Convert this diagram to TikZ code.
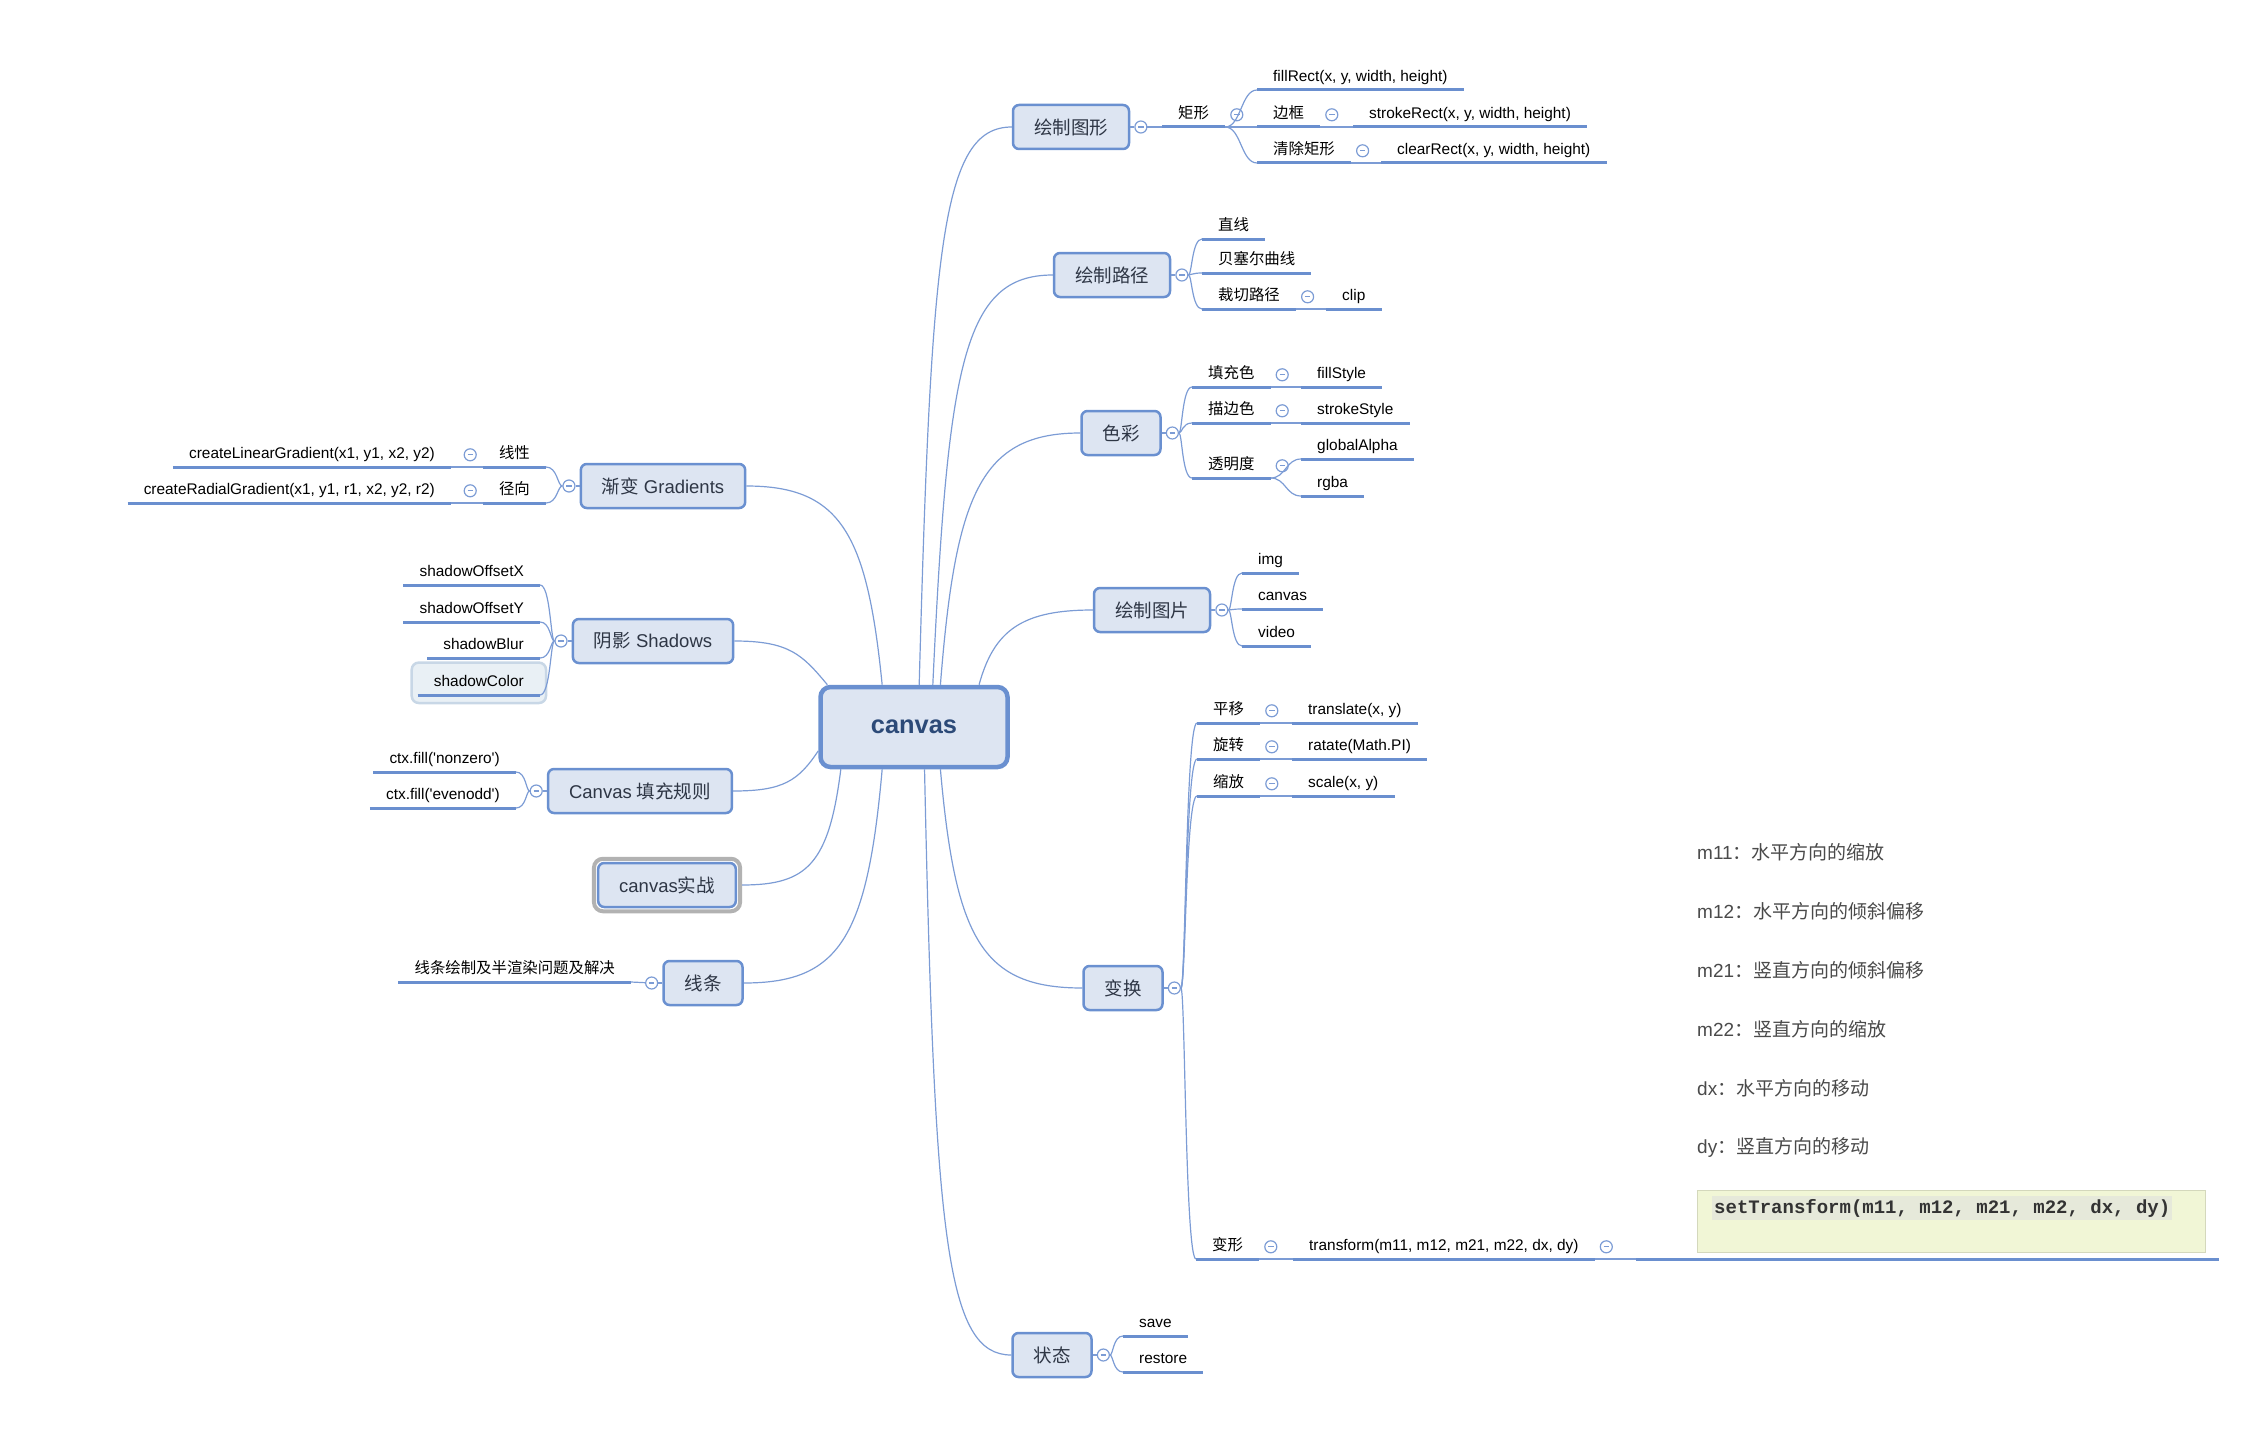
\documentclass[tikz,border=0pt]{standalone}
\usepackage{fontspec}
\setmainfont{Liberation Sans}
\setmonofont{Liberation Mono}
\newfontfamily\cjk{Noto Sans CJK SC}
\usetikzlibrary{positioning, calc, fit, backgrounds}

\definecolor{boxfill}{HTML}{DDE5F2}
\definecolor{boxline}{HTML}{6A90D0}
\definecolor{uline}{HTML}{6A8FCF}
\definecolor{branch}{HTML}{7C9CD5}
\definecolor{txtdark}{HTML}{2E3645}
\definecolor{rootink}{HTML}{2C4A78}
\definecolor{notegray}{HTML}{4A4A4A}
\definecolor{notefill}{HTML}{F1F6D6}
\definecolor{codeband}{HTML}{E6E9DA}
\definecolor{selfill}{HTML}{E9F0F5}
\definecolor{selline}{HTML}{C8D7E6}

\tikzset{
  root/.style={draw=boxline, fill=boxfill, line width=4.5pt, rounded corners=10pt,
    minimum width=187pt, minimum height=80pt, text=rootink,
    font=\bfseries\fontsize{25.4}{30}\selectfont},
  topic/.style={draw=boxline, fill=boxfill, line width=2.5pt, rounded corners=6pt,
    minimum height=44pt, inner xsep=21pt, text=txtdark,
    font=\fontsize{18.5}{22}\selectfont},
  leaf/.style={inner xsep=16pt, inner ysep=5pt, text height=11pt, text depth=3pt,
    font=\fontsize{15.4}{18}\selectfont},
  rleaf/.style={leaf, anchor=south west},
  lleaf/.style={leaf, anchor=south east},
  fold/.style={circle, draw=branch, fill=white, line width=1.2pt, minimum size=12pt, inner sep=0pt,
    path picture={\draw[branch, line width=1.1pt]
      ([xshift=-2.7pt]path picture bounding box.center) -- ([xshift=2.7pt]path picture bounding box.center);}},
  link/.style={draw=branch, line width=1.2pt},
  bar/.style={draw=uline, line width=3pt},
  fork/.style={to path={.. controls ($(\tikztostart)!0.5!(\tikztotarget|-\tikztostart)$)
    and ($(\tikztotarget)!0.5!(\tikztostart|-\tikztotarget)$) .. (\tikztotarget)}},
  note/.style={anchor=west, inner sep=0pt, text=notegray, font=\fontsize{19}{23}\selectfont},
}

\begin{document}
\begin{tikzpicture}[x=1pt, y=-1pt]
\useasboundingbox (0,0) rectangle (2264,1442);

% centre
\node[root] (canvas) at (914,727) {canvas};

% main topics, right
\node[topic] (shapes) at (1071,127) {\cjk 绘制图形};
\node[topic] (paths) at (1112,275) {\cjk 绘制路径};
\node[topic] (colors) at (1121,433) {\cjk 色彩};
\node[topic] (images) at (1152,610) {\cjk 绘制图片};
\node[topic] (transforms) at (1123,988) {\cjk 变换};
\node[topic] (states) at (1052,1355) {\cjk 状态};
% main topics, left
\node[topic] (grads) at (663,486) {{\cjk 渐变} Gradients};
\node[topic] (shadows) at (653,641) {{\cjk 阴影} Shadows};
\node[topic] (rules) at (640,791) {Canvas {\cjk 填充规则}};
\node[topic] (practice) at (667,885) {canvas{\cjk 实战}};
\node[fit=(practice), inner sep=3pt, draw=gray!60, line width=4pt, rounded corners=9pt] (practicesel) {};
\node[topic] (lines) at (703,983) {\cjk 线条};

% 绘制图形
\node[rleaf] (rect) at (1162,127) {\cjk 矩形};
\node[rleaf] (fillrect) at (1257,90) {fillRect(x, y, width, height)};
\node[rleaf] (border) at (1257,127) {\cjk 边框};
\node[rleaf] (strokerect) at (1353,127) {strokeRect(x, y, width, height)};
\node[rleaf] (clear) at (1257,163) {\cjk 清除矩形};
\node[rleaf] (clearrect) at (1381,163) {clearRect(x, y, width, height)};
% 绘制路径
\node[rleaf] (straight) at (1202,239) {\cjk 直线};
\node[rleaf] (bezier) at (1202,273) {\cjk 贝塞尔曲线};
\node[rleaf] (clippath) at (1202,309) {\cjk 裁切路径};
\node[rleaf] (cliptxt) at (1326,309) {clip};
% 色彩
\node[rleaf] (fillc) at (1192,387) {\cjk 填充色};
\node[rleaf] (fillstyle) at (1301,387) {fillStyle};
\node[rleaf] (strokec) at (1192,423) {\cjk 描边色};
\node[rleaf] (strokestyle) at (1301,423) {strokeStyle};
\node[rleaf] (alpha) at (1192,478) {\cjk 透明度};
\node[rleaf] (galpha) at (1301,459) {globalAlpha};
\node[rleaf] (rgba) at (1301,496) {rgba};
% 绘制图片
\node[rleaf] (img) at (1242,573) {img};
\node[rleaf] (cvs) at (1242,609) {canvas};
\node[rleaf] (video) at (1242,646) {video};
% 变换
\node[rleaf] (move) at (1197,723) {\cjk 平移};
\node[rleaf] (translate) at (1292,723) {translate(x, y)};
\node[rleaf] (turn) at (1197,759) {\cjk 旋转};
\node[rleaf] (ratate) at (1292,759) {ratate(Math.PI)};
\node[rleaf] (zoomc) at (1197,796) {\cjk 缩放};
\node[rleaf] (scalexy) at (1292,796) {scale(x, y)};
\node[rleaf] (trans) at (1196,1259) {\cjk 变形};
\node[rleaf] (transform) at (1293,1259) {transform(m11, m12, m21, m22, dx, dy)};
\node[anchor=south west, inner sep=0pt, minimum width=583pt, minimum height=10pt] (notes) at (1636,1259) {};
\node[note] (m11) at (1697,852) {m11{\cjk ：水平方向的缩放}};
\node[note] (m12) at (1697,911) {m12{\cjk ：水平方向的倾斜偏移}};
\node[note] (m21) at (1697,970) {m21{\cjk ：竖直方向的倾斜偏移}};
\node[note] (m22) at (1697,1029) {m22{\cjk ：竖直方向的缩放}};
\node[note] (dx) at (1697,1088) {dx{\cjk ：水平方向的移动}};
\node[note] (dy) at (1697,1147) {dy{\cjk ：竖直方向的移动}};
\node[anchor=north west, minimum width=508pt, minimum height=62pt, fill=notefill,
  draw=notefill!88!black, line width=0.8pt] (codebg) at (1697,1190) {};
\node[anchor=west, fill=codeband, inner xsep=2pt, inner ysep=3pt, text=black!80,
  font=\ttfamily\bfseries\fontsize{19}{22}\selectfont] (code) at (1712,1208)
  {setTransform(m11, m12, m21, m22, dx, dy)};
% 状态
\node[rleaf] (save) at (1123,1336) {save};
\node[rleaf] (restore) at (1123,1372) {restore};

% 渐变
\node[lleaf] (linear) at (546,467) {\cjk 线性};
\node[lleaf] (lingrad) at (451,467) {createLinearGradient(x1, y1, x2, y2)};
\node[lleaf] (radial) at (546,503) {\cjk 径向};
\node[lleaf] (radgrad) at (451,503) {createRadialGradient(x1, y1, r1, x2, y2, r2)};
% 阴影
\node[lleaf] (sox) at (540,585) {shadowOffsetX};
\node[lleaf] (soy) at (540,622) {shadowOffsetY};
\node[lleaf] (sblur) at (540,658) {shadowBlur};
\node[lleaf] (scolor) at (540,695) {shadowColor};
\begin{scope}[on background layer]
\node[fit=(scolor), inner xsep=6pt, inner ysep=8pt, fill=selfill, draw=selline,
  line width=2.5pt, rounded corners=7pt] (scolorsel) {};
\end{scope}
% 填充规则
\node[lleaf] (nonzero) at (516,772) {ctx.fill(\textquotesingle nonzero\textquotesingle)};
\node[lleaf] (evenodd) at (516,808) {ctx.fill(\textquotesingle evenodd\textquotesingle)};
% 线条
\node[lleaf] (fixline) at (631,982) {\cjk 线条绘制及半渲染问题及解决};

% fold buttons
\foreach \t in {shapes,paths,colors,images,transforms,states}
  \node[fold, right=4pt of \t] (f\t) {};
\foreach \t in {grads,shadows,rules,lines}
  \node[fold, left=4pt of \t] (f\t) {};
\foreach \t in {rect,border,clear,clippath,fillc,strokec,alpha,move,turn,zoomc,trans,transform}
  \node[fold, right=5pt of \t] (f\t) {};
\foreach \t in {linear,radial}
  \node[fold, left=6pt of \t] (f\t) {};

% centre to main topics
\draw[link] (canvas.83) .. controls +(12,-440) and +(-70,0) .. (shapes.west);
\draw[link] (canvas.66) .. controls +(15,-320) and +(-90,0) .. (paths.west);
\draw[link] (canvas.58) .. controls +(15,-190) and +(-100,0) .. (colors.west);
\draw[link] (canvas.33) .. controls +(15,-55) and +(-70,0) .. (images.west);
\draw[link] (canvas.-58) .. controls +(15,170) and +(-100,0) .. (transforms.west);
\draw[link] (canvas.-76) .. controls +(10,470) and +(-65,0) .. (states.west);
\draw[link] (canvas.127) .. controls +(-15,-150) and +(95,0) .. (grads.east);
\draw[link] (canvas.154) .. controls +(-25,-30) and +(55,0) .. (shadows.east);
\draw[link] (canvas.194) .. controls +(-20,30) and +(50,0) .. (rules.east);
\draw[link] (canvas.210) .. controls +(-12,95) and +(65,0) .. (practicesel.east);
\draw[link] (canvas.233) .. controls +(-15,170) and +(95,0) .. (lines.east);

% main topics to folds
\foreach \t in {shapes,paths,colors,images,transforms,states}
  \draw[link] (\t.east) -- (f\t);
\foreach \t in {grads,shadows,rules,lines}
  \draw[link] (\t.west) -- (f\t);

% branches, right
\draw[link] (fshapes) to[fork] (rect.south west);
\foreach \c in {fillrect,border,clear}
  \draw[link] (rect.south east) to[fork] (\c.south west);
\draw[link] (border.south east) -- (strokerect.south west);
\draw[link] (clear.south east) -- (clearrect.south west);
\foreach \c in {straight,bezier,clippath}
  \draw[link] (fpaths) to[fork] (\c.south west);
\draw[link] (clippath.south east) -- (cliptxt.south west);
\foreach \c in {fillc,strokec,alpha}
  \draw[link] (fcolors) to[fork] (\c.south west);
\draw[link] (fillc.south east) -- (fillstyle.south west);
\draw[link] (strokec.south east) -- (strokestyle.south west);
\foreach \c in {galpha,rgba}
  \draw[link] (alpha.south east) to[fork] (\c.south west);
\foreach \c in {img,cvs,video}
  \draw[link] (fimages) to[fork] (\c.south west);
\foreach \c in {move,turn,zoomc,trans}
  \draw[link] (ftransforms) to[fork] (\c.south west);
\draw[link] (move.south east) -- (translate.south west);
\draw[link] (turn.south east) -- (ratate.south west);
\draw[link] (zoomc.south east) -- (scalexy.south west);
\draw[link] (trans.south east) -- (transform.south west);
\draw[link] (transform.south east) -- (notes.south west);
\foreach \c in {save,restore}
  \draw[link] (fstates) to[fork] (\c.south west);
% branches, left
\foreach \c in {linear,radial}
  \draw[link] (fgrads) to[fork] (\c.south east);
\draw[link] (linear.south west) -- (lingrad.south east);
\draw[link] (radial.south west) -- (radgrad.south east);
\foreach \c in {sox,soy,sblur,scolor}
  \draw[link] (fshadows) to[fork] (\c.south east);
\foreach \c in {nonzero,evenodd}
  \draw[link] (frules) to[fork] (\c.south east);
\draw[link] (flines) -- (fixline.south east);

% underlines
\foreach \n in {rect,fillrect,border,strokerect,clear,clearrect,straight,bezier,clippath,cliptxt,
  fillc,fillstyle,strokec,strokestyle,alpha,galpha,rgba,img,cvs,video,move,translate,turn,ratate,
  zoomc,scalexy,trans,transform,notes,save,restore,linear,lingrad,radial,radgrad,sox,soy,sblur,
  scolor,nonzero,evenodd,fixline}
  \draw[bar] (\n.south west) -- (\n.south east);
\end{tikzpicture}
\end{document}
